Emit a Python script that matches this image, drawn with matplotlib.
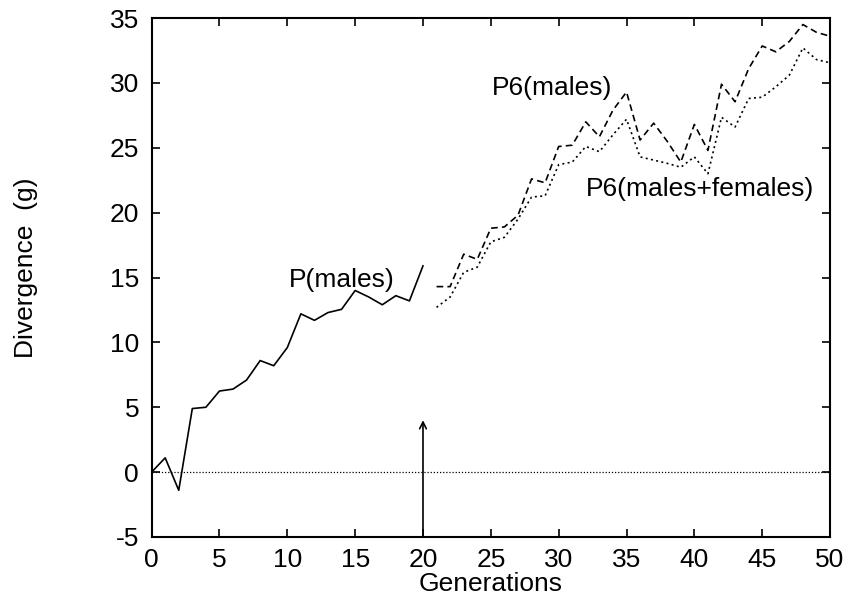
# Divergence over generations: P(males) then P6 lines
import matplotlib
matplotlib.use("Agg")
import matplotlib.pyplot as plt

plt.rcParams['font.family'] = ['Liberation Sans', 'DejaVu Sans']
plt.rcParams['axes.unicode_minus'] = False

# P(males), generations 0-20
p_gen = list(range(0, 21))
p_males = [0.0, 1.1, -1.4, 4.9, 5.0, 6.25, 6.4, 7.1, 8.6, 8.2, 9.6,
           12.2, 11.7, 12.3, 12.55, 14.0, 13.5, 12.9, 13.6, 13.2, 15.9]

# P6 lines, generations 21-50
p6_gen = list(range(21, 51))
p6_males = [14.3, 14.3, 16.8, 16.4, 18.8, 18.9, 19.8, 22.6, 22.3, 25.1,
            25.2, 27.0, 25.85, 27.9, 29.3, 25.6, 26.9, 25.5, 23.9, 26.8,
            24.8, 29.9, 28.55, 31.1, 32.85, 32.4, 33.2, 34.5, 33.9, 33.6]
p6_both = [12.7, 13.5, 15.4, 15.8, 17.75, 18.1, 19.5, 21.2, 21.3, 23.7,
           23.9, 25.1, 24.7, 26.0, 27.2, 24.3, 24.05, 23.8, 23.5, 24.3,
           23.0, 27.35, 26.6, 28.8, 28.9, 29.7, 30.6, 32.7, 31.8, 31.55]

fs = 19

fig = plt.figure(figsize=(8.47, 6.02), dpi=100)
ax = fig.add_axes([0.179, 0.108, 0.801, 0.862])

ax.axhline(0, color='black', lw=0.9, ls=(0, (1, 1.5)))
ax.plot(p_gen, p_males, color='black', lw=1.2)
ax.plot(p6_gen, p6_males, color='black', lw=1.2, ls=(0, (4, 2.5)))
ax.plot(p6_gen, p6_both, color='black', lw=1.2, ls=(0, (1.2, 2)))

# arrow marking generation 20
ax.annotate('', xy=(20, 4.0), xytext=(20, -5),
            arrowprops=dict(arrowstyle='->', color='black', lw=1.2,
                            shrinkA=0, shrinkB=0, mutation_scale=12))

ax.text(10.1, 14.3, 'P(males)', fontsize=fs)
ax.text(25.1, 29.1, 'P6(males)', fontsize=fs)
ax.text(32.0, 21.3, 'P6(males+females)', fontsize=fs)

ax.set_xlim(0, 50)
ax.set_ylim(-5, 35)
ax.set_xticks(range(0, 51, 5))
ax.set_yticks(range(-5, 36, 5))
ax.tick_params(direction='in', length=6, width=1.2, labelsize=fs,
               top=True, right=True)
ax.tick_params(axis='x', pad=8)
ax.tick_params(axis='y', pad=9)
for s in ax.spines.values():
    s.set_linewidth(1.5)

ax.set_xlabel('Generations', fontsize=fs)
ax.set_ylabel('Divergence  (g)', fontsize=fs)
ax.xaxis.set_label_coords(0.5, -0.068)
ax.yaxis.set_label_coords(-0.168, 0.518)

fig.savefig('out.png', dpi=100)
